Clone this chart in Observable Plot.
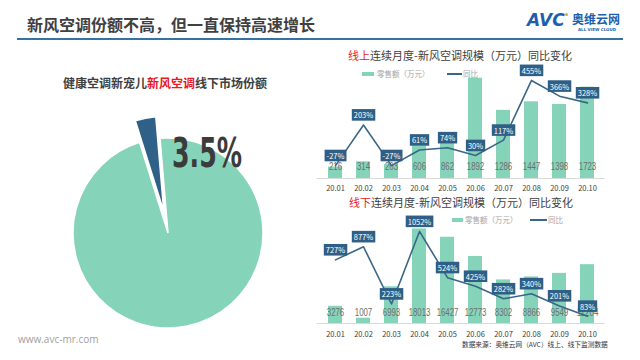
<!DOCTYPE html>
<html><head><meta charset="utf-8">
<script src="https://cdn.jsdelivr.net/npm/d3@7"></script>
<script src="https://cdn.jsdelivr.net/npm/@observablehq/plot@0.6"></script>
<style>
body{margin:0;background:#fff;}
#root{position:relative;width:640px;height:360px;overflow:hidden;font-family:"Noto Sans CJK SC","Noto Sans",sans-serif;background:#fff;}
.abs{position:absolute;white-space:nowrap;line-height:1;}
.plot{position:absolute;}
.plot svg{overflow:visible;}
</style></head><body><div id="root"></div>
<script>
// ---------- data ----------
const months = ["20.01","20.02","20.03","20.04","20.05","20.06","20.07","20.08","20.09","20.10"];
const onlineSales = [216,314,263,606,862,1892,1286,1447,1398,1723];
const onlineYoY = [-27,203,-27,61,74,30,117,455,366,328];
const offlineSales = [3276,1007,6993,18013,16427,12773,8302,8866,9549,11204];
const offlineYoY = [727,877,223,1052,524,425,282,340,201,83];
const shareNames = ["其他空调","新风空调"];
const shareValues = [96.5, 3.5];

const GREEN = "#85d4b9", DARK = "#2f6088", LINE = "#3a6687", BOX = "#2f5f86";
const FONT = '"Noto Sans CJK SC","Noto Sans",sans-serif';
const NARROW = '"Liberation Sans Narrow","DejaVu Sans Condensed","Liberation Sans",sans-serif';
const root = document.getElementById("root");

function txt(html, left, cy, fs, opts = {}) {
  const d = document.createElement("div");
  d.className = "abs";
  d.innerHTML = html;
  d.style.left = left + "px";
  d.style.top = (cy - 0.556 * fs) + "px";
  d.style.fontSize = fs + "px";
  d.style.color = opts.color || "#404040";
  if (opts.weight) d.style.fontWeight = opts.weight;
  if (opts.family) d.style.fontFamily = opts.family;
  if (opts.center) { d.style.transform = "translateX(-50%)"; }
  if (opts.style) Object.assign(d.style, opts.style);
  root.appendChild(d);
  return d;
}
function box(left, top, w, h, color, extra = {}) {
  const d = document.createElement("div");
  d.className = "abs";
  Object.assign(d.style, {left: left + "px", top: top + "px", width: w + "px", height: h + "px", background: color}, extra);
  root.appendChild(d);
  return d;
}
function place(svg, left, top) {
  const w = document.createElement("div");
  w.className = "plot";
  w.style.left = left + "px"; w.style.top = top + "px";
  w.appendChild(svg);
  root.appendChild(w);
  return svg;
}

// ---------- header ----------
txt("新风空调份额不高，但一直保持高速增长", 27, 25, 16, {weight: "bold", color: "#404040"});
box(17, 38, 606, 2, "#3572a6");
txt('<span style="font-style:italic;letter-spacing:0px">AVC</span>', 527, 21, 17, {weight: "900", color: "#1d5fae", family: "'DejaVu Sans'"});
box(565, 13, 3, 3, "#f0a020", {borderRadius: "50%"});
txt("奥维云网", 572, 20, 12, {weight: "bold", color: "#1d5fae"});
txt("ALL VIEW CLOUD", 578, 30, 4, {color: "#1d5fae", family: "'DejaVu Sans'", weight: "bold"});

// ---------- pie ----------
txt('健康空调新宠儿<span style="color:#e8191f">新风空调</span>线下市场份额', 165, 84, 12, {weight: "bold", color: "#404040", center: true});
const pieData = shareNames.map((n, i) => ({name: n, value: shareValues[i]}));
const pieColors = [GREEN, DARK];
const pieSvg = Plot.plot({
  width: 250, height: 250, margin: 0,
  x: {domain: [-1.25, 1.25], axis: null},
  y: {domain: [-1.25, 1.25], axis: null},
  style: {background: "transparent", overflow: "visible"},
  marks: [
    Plot.dot([0], {x: () => 0, y: () => 0, r: 0}),
    (index, scales) => {
      const cx = scales.x(0), cy = scales.y(0);
      const r = scales.x(0.95) - cx, off = scales.x(0.22) - cx;
      const arcs = d3.pie().sort(null).value(d => d.value).startAngle(-0.084).endAngle(2 * Math.PI - 0.084)(pieData);
      const arc = d3.arc().innerRadius(0).outerRadius(r);
      const g = d3.create("svg:g");
      arcs.forEach((a, i) => {
        const mid = (a.startAngle + a.endAngle) / 2;
        const e = i === 1 ? off : 0;
        g.append("path").attr("d", arc(a))
          .attr("transform", `translate(${cx + e * Math.sin(mid)},${cy - e * Math.cos(mid)})`)
          .attr("fill", pieColors[i]).attr("stroke", "#fff").attr("stroke-width", 1.5);
      });
      return g.node();
    }
  ]
});
place(pieSvg, 43, 108);
// big share label
(function () {
  const ns = "http://www.w3.org/2000/svg";
  const s = document.createElementNS(ns, "svg");
  s.setAttribute("width", 90); s.setAttribute("height", 40);
  s.style.position = "absolute"; s.style.left = "170px"; s.style.top = "130px"; s.style.overflow = "visible";
  const t = document.createElementNS(ns, "text");
  t.setAttribute("x", 2); t.setAttribute("y", 37);
  t.setAttribute("textLength", 70); t.setAttribute("lengthAdjust", "spacingAndGlyphs");
  t.setAttribute("fill", "#3b3b3b");
  t.style.font = 'bold 41px ' + NARROW;
  t.textContent = d3.format(".1f")(shareValues[1]) + "%";
  s.appendChild(t);
  root.appendChild(s);
})();

// ---------- bar/line charts ----------
const xOpts = {type: "band", domain: months, paddingInner: 0.5, paddingOuter: 0.25};
function barChart(sales, yMax, h, mt, mb, tp, vdy) {
  const data = months.map((m, i) => ({m, v: sales[i]}));
  return Plot.plot({
    width: 320, height: h, marginLeft: 16.6, marginRight: 15.4, marginTop: mt, marginBottom: mb,
    style: {background: "transparent", color: "#404040", fontFamily: FONT, overflow: "visible"},
    x: xOpts,
    y: {domain: [0, yMax], axis: null},
    marks: [
      Plot.barY(data, {x: "m", y: "v", fill: GREEN}),
      Plot.ruleY([0], {stroke: "#d9d9d9", strokeWidth: 1}),
      Plot.axisX({tickSize: 0, tickPadding: tp, fontSize: 7.5, fill: "#404040", label: null}),
      Plot.text(data, {x: "m", text: d => String(d.v), frameAnchor: "bottom", dy: vdy, fill: "#6e6e6e", fontSize: 10, fontFamily: "'Liberation Sans',sans-serif"})
    ]
  });
}
function condenseValues(svg) {
  // narrow the in-bar value labels like the reference's condensed numerals
  svg.querySelectorAll('g[aria-label="text"] text').forEach(t => {
    const n = t.textContent.length;
    t.setAttribute("textLength", n * 4.35);
    t.setAttribute("lengthAdjust", "spacingAndGlyphs");
  });
}
function lineChart(yoy, yDomain, h, mt, mb) {
  const data = months.map((m, i) => ({m, v: yoy[i]}));
  const svg = Plot.plot({
    width: 320, height: h, marginLeft: 16.6, marginRight: 15.4, marginTop: mt, marginBottom: mb,
    style: {background: "transparent", fontFamily: FONT, overflow: "visible"},
    x: {...xOpts, axis: null},
    y: {domain: yDomain, axis: null},
    marks: [
      Plot.line(data, {x: "m", y: "v", stroke: LINE, strokeWidth: 1.6}),
      Plot.text(data, {x: "m", y: "v", text: d => d.v + "%", dy: -9, fill: "#fff", fontSize: 7.5})
    ]
  });
  return svg;
}
function addBoxes(svg) {
  svg.querySelectorAll('g[aria-label="text"] text').forEach(t => {
    const b = t.getBBox();
    const r = document.createElementNS("http://www.w3.org/2000/svg", "rect");
    r.setAttribute("x", b.x - 2); r.setAttribute("y", b.y - 0.3);
    r.setAttribute("width", b.width + 4); r.setAttribute("height", b.height + 0.6);
    if (t.getAttribute("transform")) r.setAttribute("transform", t.getAttribute("transform"));
    r.setAttribute("fill", BOX);
    t.parentNode.insertBefore(r, t);
  });
}

// top (online)
txt('<span style="color:#e8231f">线上</span>连续月度-新风空调规模（万元）同比变化', 460, 56, 11, {center: true, color: "#404040"});
box(362, 72, 12, 4, GREEN);
txt("零售额（万元）", 377, 74, 7.5, {color: "#a6a6a6"});
box(447, 73.2, 15, 1.6, LINE);
txt("同比", 463, 74, 7.5, {color: "#a6a6a6"});
condenseValues(place(barChart(onlineSales, 2000, 135, 12, 17, 7, -9), 300, 60));
const l1 = place(lineChart(onlineYoY, [-100, 500], 135, 12, 17), 300, 60);
addBoxes(l1);

// bottom (offline)
txt('<span style="color:#e8231f">线下</span>连续月度-新风空调规模（万元）同比变化', 461, 203, 11, {center: true, color: "#404040"});
box(452, 218, 11, 4, GREEN);
txt("零售额（万元）", 465, 220, 7.5, {color: "#a6a6a6"});
box(530, 219.2, 17, 1.6, LINE);
txt("同比", 548, 220, 7.5, {color: "#a6a6a6"});
condenseValues(place(barChart(offlineSales, 20000, 140, 18, 17, 8, -8), 300, 200));
const l2 = place(lineChart(offlineYoY, [0, 1200], 140, 18, 17), 300, 200);
addBoxes(l2);

// ---------- footer ----------
txt("www.avc-mr.com", 18, 340, 10, {color: "#a0a0a0", family: "'Open Sans','DejaVu Sans',sans-serif"});
txt("数据来源：奥维云网（AVC）线上、线下监测数据", 462, 345, 6.7, {color: "#333"});
</script></body></html>
